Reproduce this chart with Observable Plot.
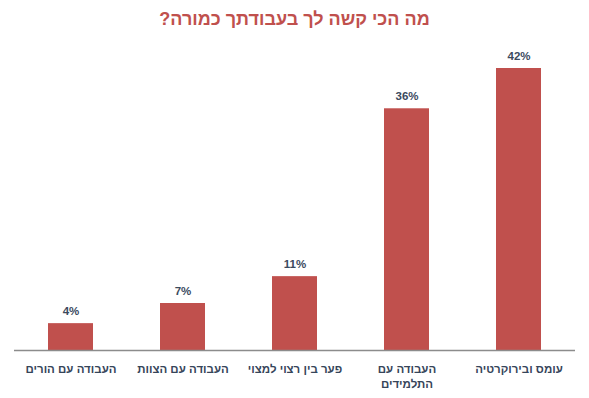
<!DOCTYPE html>
<html>
<head>
<meta charset="utf-8">
<script src="https://cdn.jsdelivr.net/npm/d3@7"></script>
<script src="https://cdn.jsdelivr.net/npm/@observablehq/plot@0.6"></script>
<style>
  html, body { margin: 0; padding: 0; background: #fff; }
  #wrap { position: relative; width: 589px; height: 398px; }
  #title { position: absolute; top: 8px; left: 0; width: 589px; text-align: center;
    font-family: "Liberation Sans", Arial, sans-serif; font-weight: bold; font-size: 18px;
    color: #c0504d; direction: rtl; line-height: 22px; }
  #chart { position: absolute; top: 0; left: 0; }
</style>
</head>
<body>
<div id="wrap">
  <div id="title">מה הכי קשה לך בעבודתך כמורה?</div>
  <div id="chart"></div>
</div>
<script>
const categories = ["העבודה עם הורים", "העבודה עם הצוות", "פער בין רצוי למצוי", "העבודה עם\nהתלמידים", "עומס ובירוקרטיה"];
const values = [4, 7, 11, 36, 42];
const valueLabels = ["4%", "7%", "11%", "36%", "42%"];

const data = categories.map((c, i) => ({cat: c, v: values[i], label: valueLabels[i]}));
const font = "'Liberation Sans', Arial, sans-serif";

const chart = Plot.plot({
  width: 589,
  height: 398,
  marginLeft: 14,
  marginRight: 14,
  marginTop: 68,
  marginBottom: 48,
  style: {fontFamily: font, background: "transparent"},
  x: {domain: categories, paddingInner: 0.6, paddingOuter: 0.3, label: null},
  y: {domain: [0, 42], axis: null},
  marks: [
    Plot.barY(data, {x: "cat", y: "v", fill: "#c0504d"}),
    Plot.ruleY([0], {stroke: "#8c8c8c", strokeWidth: 1.5}),
    Plot.text(data, {x: "cat", y: "v", text: "label", dy: -12, fill: "#3b4a5e", fontWeight: "bold", fontSize: 11.5}),
    Plot.axisX({tickSize: 0, tickPadding: 12, fontSize: 11.5, fontWeight: "bold", color: "#36455a", lineHeight: 1.3, label: null})
  ]
});
chart.querySelectorAll("text").forEach(t => t.setAttribute("direction", "rtl"));
document.getElementById("chart").appendChild(chart);
</script>
</body>
</html>
